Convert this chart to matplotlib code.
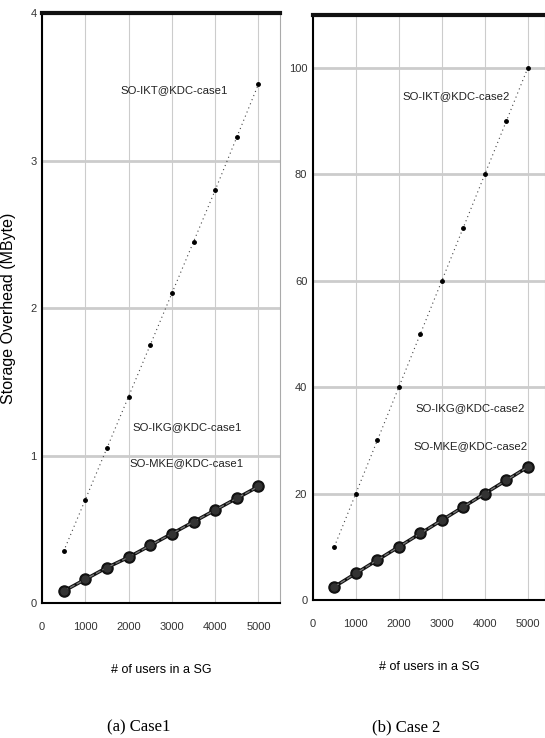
import matplotlib.pyplot as plt

# number of users in a SG
users = [500, 1000, 1500, 2000, 2500, 3000, 3500, 4000, 4500, 5000]

# case 1 (MByte)
ikt_case1 = [0.35, 0.70, 1.05, 1.40, 1.75, 2.10, 2.45, 2.80, 3.16, 3.52]
ikg_case1 = [0.08, 0.16, 0.24, 0.31, 0.39, 0.47, 0.55, 0.63, 0.71, 0.79]
mke_case1 = [0.08, 0.16, 0.24, 0.31, 0.39, 0.47, 0.55, 0.63, 0.71, 0.79]

# case 2 (MByte)
ikt_case2 = [10, 20, 30, 40, 50, 60, 70, 80, 90, 100]
ikg_case2 = [2.5, 5, 7.5, 10, 12.5, 15, 17.5, 20, 22.5, 25]
mke_case2 = [2.5, 5, 7.5, 10, 12.5, 15, 17.5, 20, 22.5, 25]

fig = plt.figure(figsize=(5.45, 7.38), dpi=100)
ax1 = fig.add_axes([0.077, 0.183, 0.437, 0.799])
ax2 = fig.add_axes([0.574, 0.187, 0.426, 0.793])

lab_font = dict(family='Liberation Sans', fontsize=8.2, color='#222222')


def draw_panel(ax, ikt, ikg, mke, ylim, yticks, case, txt_pos):
    # thin dotted IKT line
    ax.plot(users, ikt, linestyle=(0, (1, 3)), color='#444444', lw=0.8,
            marker='o', markersize=2.5, markerfacecolor='black',
            markeredgecolor='black', zorder=3)
    # IKG and MKE overlap
    ax.plot(users, ikg, '-', color='#111111', lw=2.5, marker='o',
            markersize=8, markerfacecolor='#111111', markeredgecolor='#111111', zorder=4)
    ax.plot(users, mke, '--', color='#777777', lw=1.0, marker='o',
            markersize=5, markerfacecolor='#333333', markeredgecolor='#333333', zorder=5)

    ax.set_xlim(0, 5500 if case == 1 else 5400)
    ax.set_ylim(*ylim)
    ax.set_xticks([0, 1000, 2000, 3000, 4000, 5000])
    ax.set_yticks(yticks)
    ax.tick_params(length=0, labelsize=8, labelcolor='#333333')
    ax.tick_params(axis='x', pad=14)
    ax.tick_params(axis='y', pad=4)
    for lbl in ax.get_xticklabels() + ax.get_yticklabels():
        lbl.set_family('Liberation Sans')

    ax.grid(axis='y', color='#cccccc', lw=2)
    ax.grid(axis='x', color='#cccccc', lw=0.8)
    ax.set_axisbelow(True)

    ax.spines['top'].set_linewidth(3)
    ax.spines['top'].set_color('#111111')
    ax.spines['left'].set_linewidth(1.5)
    ax.spines['bottom'].set_linewidth(1.5)
    ax.spines['right'].set_color('#aaaaaa')
    ax.spines['right'].set_linewidth(0.8)

    ax.set_xlabel('# of users in a SG', fontsize=9, family='Liberation Sans',
                  labelpad=23)

    (x1, y1), (x2, y2), (x3, y3) = txt_pos
    ax.text(x1, y1, 'SO-IKT@KDC-case%d' % case, ha='center', va='center', **lab_font)
    ax.text(x2, y2, 'SO-IKG@KDC-case%d' % case, ha='center', va='center', **lab_font)
    ax.text(x3, y3, 'SO-MKE@KDC-case%d' % case, ha='center', va='center', **lab_font)


draw_panel(ax1, ikt_case1, ikg_case1, mke_case1, (0, 4), [0, 1, 2, 3, 4], 1,
           [(3050, 3.48), (3350, 1.19), (3350, 0.95)])
draw_panel(ax2, ikt_case2, ikg_case2, mke_case2, (0, 110), [0, 20, 40, 60, 80, 100], 2,
           [(3330, 94.7), (3670, 36), (3670, 29)])

ax1.set_ylabel('Storage Overhead (MByte)', fontsize=11.5, family='Liberation Sans',
               labelpad=10)

fig.text(0.255, 0.014, '(a) Case1', ha='center', va='center',
         family='Liberation Serif', fontsize=12)
fig.text(0.745, 0.014, '(b) Case 2', ha='center', va='center',
         family='Liberation Serif', fontsize=12)

fig.savefig('out.png', dpi=100)
